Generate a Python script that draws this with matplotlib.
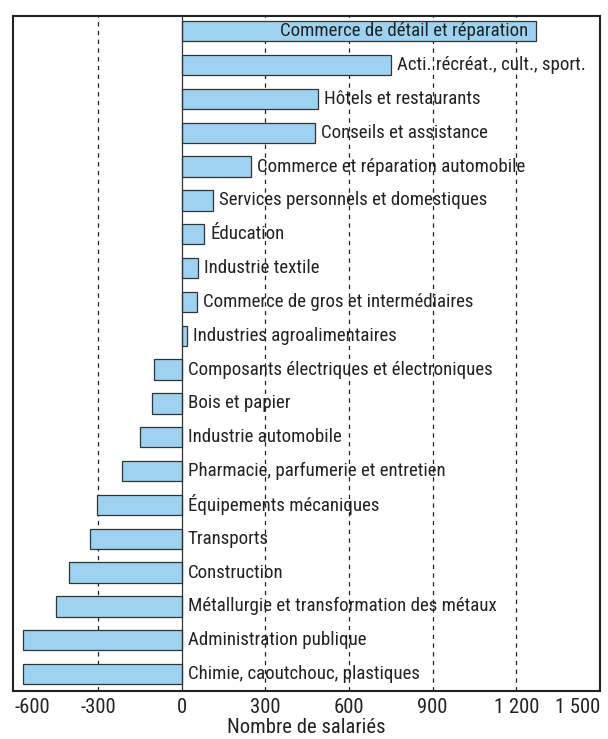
import matplotlib
matplotlib.use("Agg")
import matplotlib.pyplot as plt
from matplotlib import font_manager
from matplotlib.font_manager import FontProperties
from matplotlib.transforms import offset_copy
from matplotlib.textpath import TextPath

categories = [
    "Commerce de détail et réparation",
    "Acti. récréat., cult., sport.",
    "Hôtels et restaurants",
    "Conseils et assistance",
    "Commerce et réparation automobile",
    "Services personnels et domestiques",
    "Éducation",
    "Industrie textile",
    "Commerce de gros et intermédiaires",
    "Industries agroalimentaires",
    "Composants électriques et électroniques",
    "Bois et papier",
    "Industrie automobile",
    "Pharmacie, parfumerie et entretien",
    "Équipements mécaniques",
    "Transports",
    "Construction",
    "Métallurgie et transformation des métaux",
    "Administration publique",
    "Chimie, caoutchouc, plastiques",
]
values = [1270, 750, 490, 477, 250, 112, 80, 60, 55, 18,
          -100, -105, -150, -215, -305, -330, -405, -450, -570, -570]
tick_values = [-600, -300, 0, 300, 600, 900, 1200, 1500]
tick_labels = ["-600", "-300", "0", "300", "600", "900", "1 200", "1 500"]
xlabel = "Nombre de salariés"

BAR = "#9dd3f0"
EDGE = "#333333"
TXT = "#222222"


def pick_font():
    fonts = font_manager.fontManager.ttflist
    def ok(f):
        w = f.weight
        return f.style == "normal" and (w in (400, "normal", "regular", "book"))
    prefs = [
        lambda f: f.name == "Liberation Sans Narrow",
        lambda f: f.name == "Roboto Condensed",
        lambda f: "DejaVu Sans" in f.name and ("Condensed" in f.name or f.stretch == "condensed") and "Mono" not in f.name,
        lambda f: f.name.startswith("Noto Sans") and ("Condensed" in f.name or f.stretch in ("condensed", "semi-condensed")) and "CJK" not in f.name and "Mono" not in f.name,
        lambda f: "Open Sans" in f.name and ("Condensed" in f.name or f.stretch == "condensed"),
        lambda f: ("Narrow" in f.name or "Condensed" in f.name) and "Mono" not in f.name,
    ]
    for p in prefs:
        for f in fonts:
            if ok(f) and p(f):
                return f.fname
    return font_manager.findfont("DejaVu Sans")


FNAME = pick_font()


def fp(size):
    return FontProperties(fname=FNAME, size=size)


def width_px(s, size):
    tp = TextPath((0, 0), s, prop=fp(size))
    ext = tp.get_extents()
    return ext.width * 100 / 72.0


lab_size = 14.5 * 247 / width_px("Commerce de détail et réparation", 14.5)
lab_size = max(10, min(16, lab_size))
tick_size = 15 * 34 / width_px("-600", 15)
tick_size = max(10, min(17, tick_size))

fig = plt.figure(figsize=(6.08, 7.39), dpi=100)
ax = fig.add_axes([13 / 608, 1 - 691 / 739, (600 - 13) / 608, (691 - 16) / 739])

y = list(range(len(categories)))
for t in tick_values[1:-1]:
    if t != 0:
        ax.axvline(t, color="#222222", lw=0.9, linestyle=(0, (3.5, 3.5)), zorder=1)
ax.barh(y, values, height=0.6, color=BAR, edgecolor=EDGE, linewidth=0.9, zorder=2)
ax.axvline(0, color="#333333", lw=0.9, zorder=3)

for i, (c, v) in enumerate(zip(categories, values)):
    if v > 1000:
        tr = offset_copy(ax.transData, fig=fig, x=-8, y=0, units="dots")
        ax.text(v, i, c, transform=tr, ha="right", va="center",
                fontproperties=fp(lab_size), color=TXT, zorder=4)
    else:
        tr = offset_copy(ax.transData, fig=fig, x=6, y=0, units="dots")
        ax.text(max(v, 0), i, c, transform=tr, ha="left", va="center",
                fontproperties=fp(lab_size), color=TXT, zorder=4)

ax.set_xlim(-605, 1500)
ax.set_ylim(len(categories) - 0.5, -0.45)
ax.set_yticks([])
ax.set_xticks(tick_values)
ax.set_xticklabels(tick_labels, color=TXT)
for lab in ax.get_xticklabels():
    lab.set_fontproperties(fp(tick_size))
labs = ax.get_xticklabels()
labs[0].set_horizontalalignment("left")
labs[-1].set_horizontalalignment("right")
ax.tick_params(axis="x", length=0, pad=5)
ax.set_xlabel(xlabel, fontproperties=fp(tick_size), color=TXT, labelpad=1)
for s in ax.spines.values():
    s.set_linewidth(1.5)
    s.set_color("#222222")

fig.savefig("out.png", dpi=100)
